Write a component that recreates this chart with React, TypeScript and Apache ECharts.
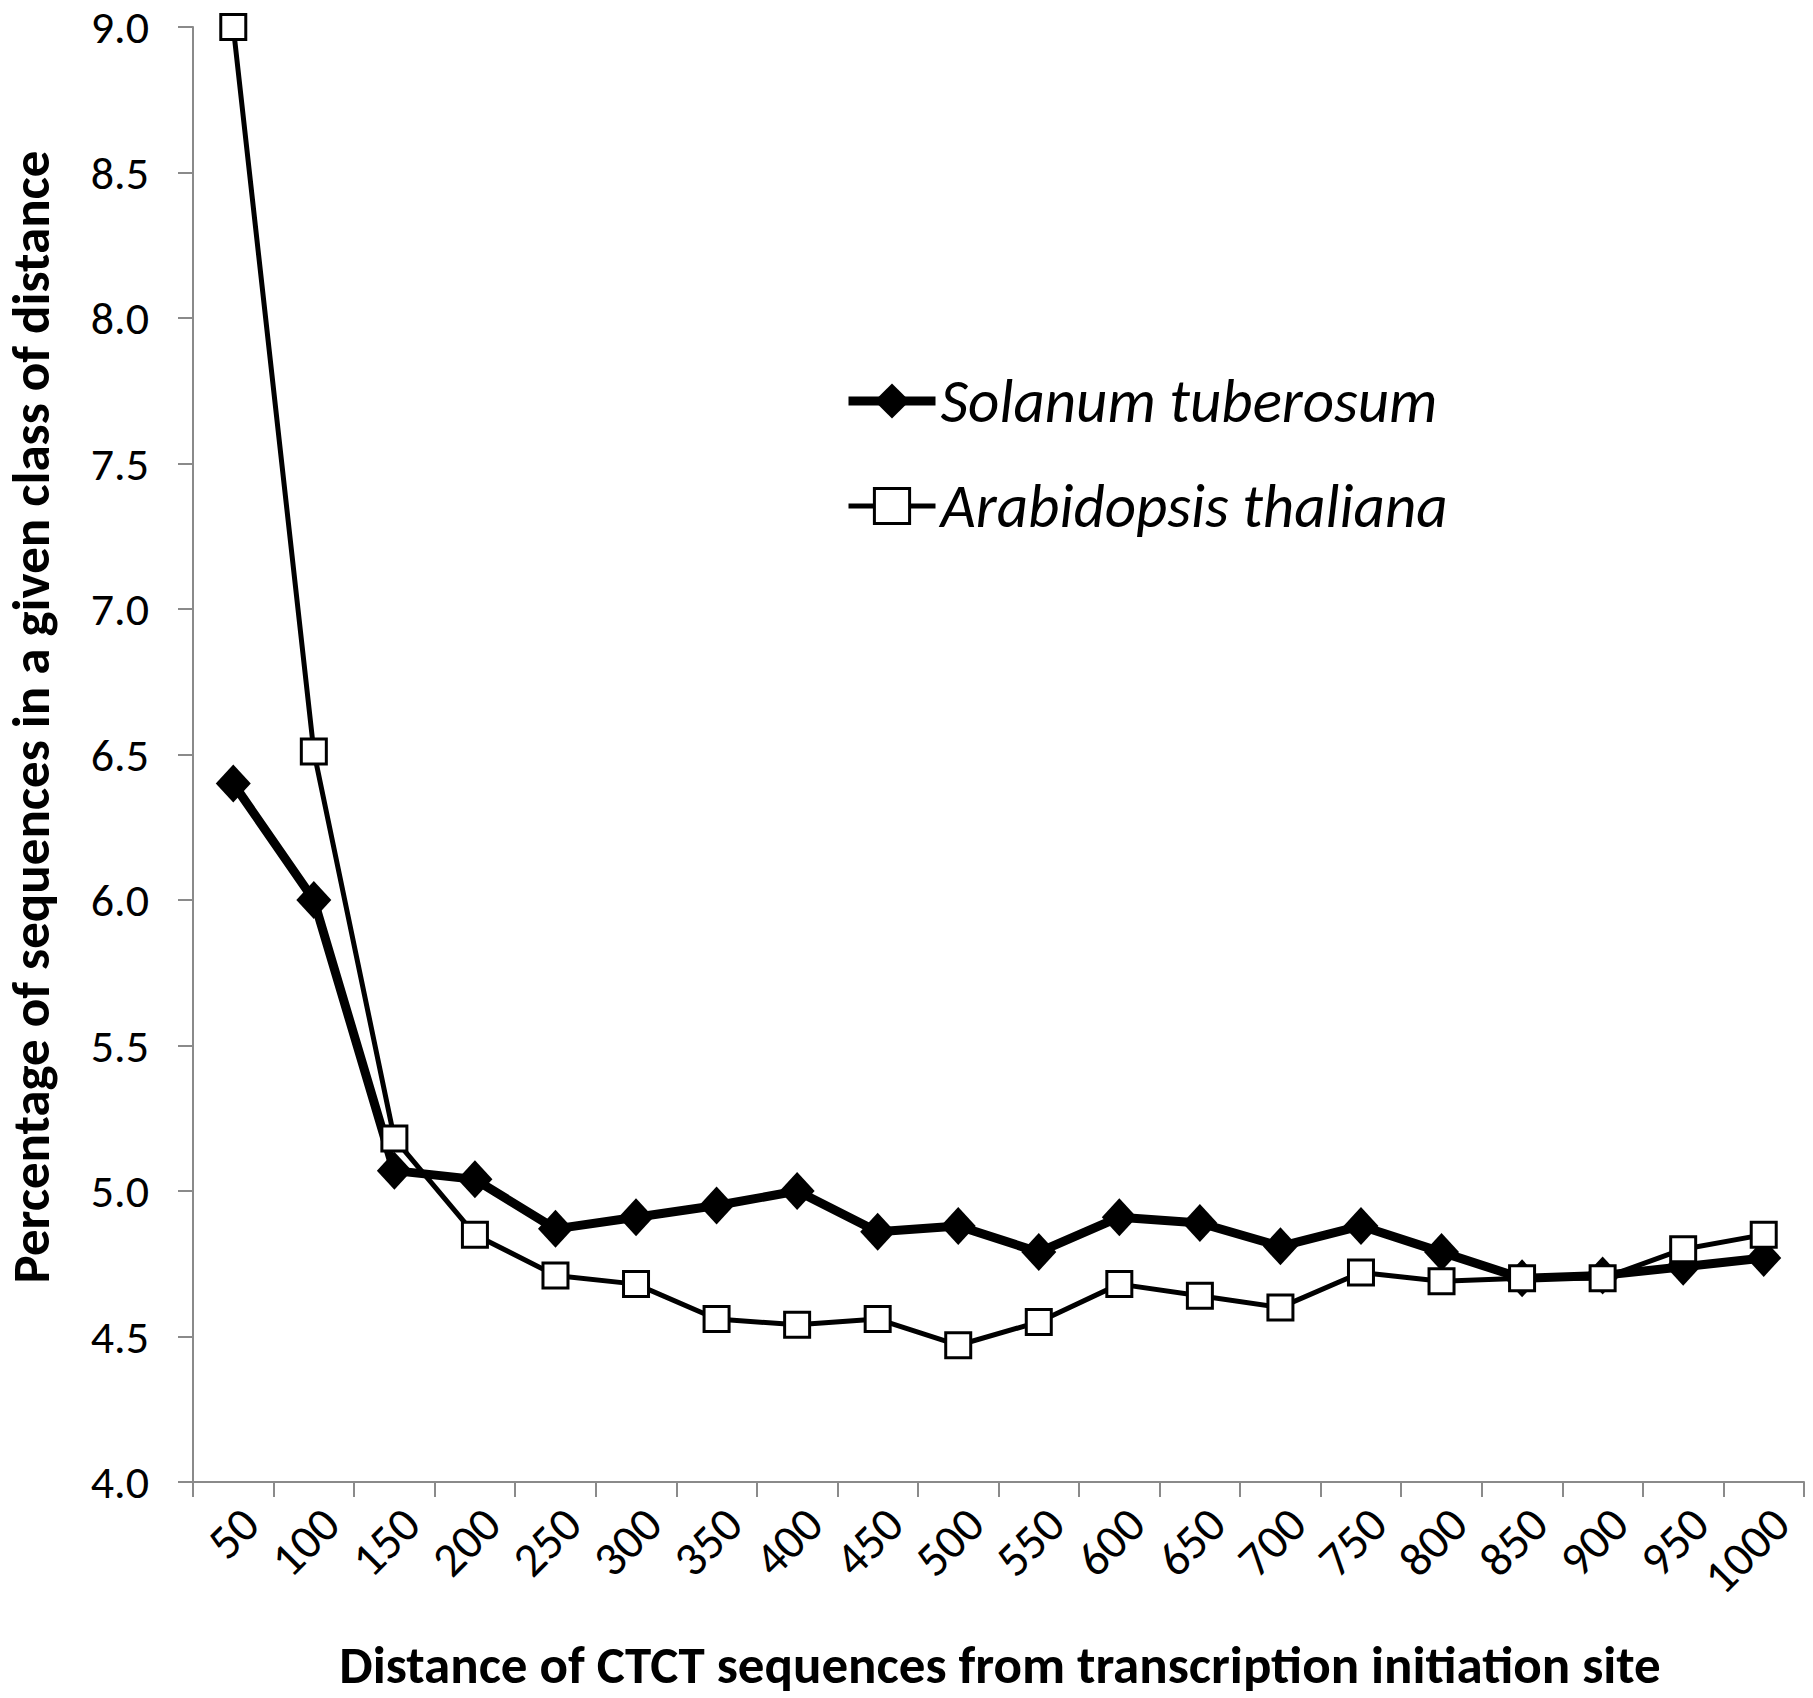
import React, { useEffect, useRef } from "react";
import * as echarts from "echarts";

const categories = ["50", "100", "150", "200", "250", "300", "350", "400", "450", "500", "550", "600", "650", "700", "750", "800", "850", "900", "950", "1000"];
const solanum = [6.40, 6.00, 5.07, 5.04, 4.87, 4.91, 4.95, 5.00, 4.86, 4.88, 4.79, 4.91, 4.89, 4.81, 4.88, 4.79, 4.70, 4.71, 4.74, 4.77];
const arabidopsis = [9.00, 6.51, 5.18, 4.85, 4.71, 4.68, 4.56, 4.54, 4.56, 4.47, 4.55, 4.68, 4.64, 4.60, 4.72, 4.69, 4.70, 4.70, 4.80, 4.85];
const seriesNames = ["Solanum tuberosum", "Arabidopsis thaliana"];
const xTitle = "Distance of CTCT sequences from transcription initiation site";
const yTitle = "Percentage of sequences in a given class of distance";

const FONT = "Carlito, Lato, 'Open Sans', sans-serif";
const AXIS_GRAY = "#8a8a8a";

export default function App() {
  const ref = useRef<HTMLDivElement>(null);
  useEffect(() => {
    if (!ref.current) return;
    const chart = echarts.init(ref.current, undefined, { renderer: "svg" });
    chart.setOption({
      animation: false,
      backgroundColor: "#ffffff",
      grid: { left: 193, top: 27, right: 9, bottom: 216, containLabel: false },
      legend: {
        orient: "vertical",
        left: 844,
        top: 370,
        padding: 0,
        itemWidth: 87,
        itemHeight: 44,
        itemGap: 43,
        data: [
          { name: seriesNames[0], lineStyle: { width: 9 }, itemStyle: { borderWidth: 0 } },
          { name: seriesNames[1], lineStyle: { width: 5 }, itemStyle: { borderWidth: 3 } },
        ],
        textStyle: {
          fontFamily: FONT,
          fontStyle: "italic",
          fontSize: 61,
          lineHeight: 62,
          color: "#000",
        },
      },
      xAxis: {
        type: "category",
        data: categories,
        boundaryGap: true,
        axisLine: { show: true, lineStyle: { color: AXIS_GRAY, width: 2 } },
        axisTick: { show: true, length: 15, interval: 0, lineStyle: { color: AXIS_GRAY, width: 2 } },
        axisLabel: {
          interval: 0,
          rotate: 45,
          margin: 17,
          verticalAlign: "top",
          fontFamily: FONT,
          fontSize: 48,
          lineHeight: 48,
          color: "#000",
        },
        splitLine: { show: false },
      },
      yAxis: {
        type: "value",
        min: 4,
        max: 9,
        interval: 0.5,
        axisLine: { show: true, lineStyle: { color: AXIS_GRAY, width: 2 } },
        axisTick: { show: true, length: 15, lineStyle: { color: AXIS_GRAY, width: 2 } },
        axisLabel: {
          margin: 44,
          fontFamily: FONT,
          fontSize: 46,
          lineHeight: 40,
          color: "#000",
          formatter: (v: number) => v.toFixed(1),
        },
        splitLine: { show: false },
      },
      series: [
        {
          name: seriesNames[0],
          type: "line",
          data: solanum,
          symbol: "diamond",
          symbolSize: [35, 38],
          lineStyle: { color: "#000", width: 9 },
          itemStyle: { color: "#000", borderColor: "#000", borderWidth: 0 },
          z: 2,
        },
        {
          name: seriesNames[1],
          type: "line",
          data: arabidopsis,
          symbol: "rect",
          symbolSize: 25,
          lineStyle: { color: "#000", width: 5 },
          itemStyle: { color: "#ffffff", borderColor: "#000", borderWidth: 3 },
          z: 3,
        },
      ],
      graphic: [
        {
          type: "text",
          x: 1000,
          y: 1665,
          style: {
            text: xTitle,
            fontFamily: FONT,
            fontWeight: "bold",
            fontSize: 53,
            fill: "#000",
            textAlign: "center",
            textVerticalAlign: "middle",
          },
        },
        {
          type: "text",
          x: 31,
          y: 717,
          rotation: Math.PI / 2,
          style: {
            text: yTitle,
            fontFamily: FONT,
            fontWeight: "bold",
            fontSize: 53,
            fill: "#000",
            textAlign: "center",
            textVerticalAlign: "middle",
          },
        },
      ],
    });
    return () => chart.dispose();
  }, []);
  return (
    <div
      ref={ref}
      style={{ position: "absolute", left: 0, top: 0, width: 1813, height: 1698, background: "#fff" }}
    />
  );
}
